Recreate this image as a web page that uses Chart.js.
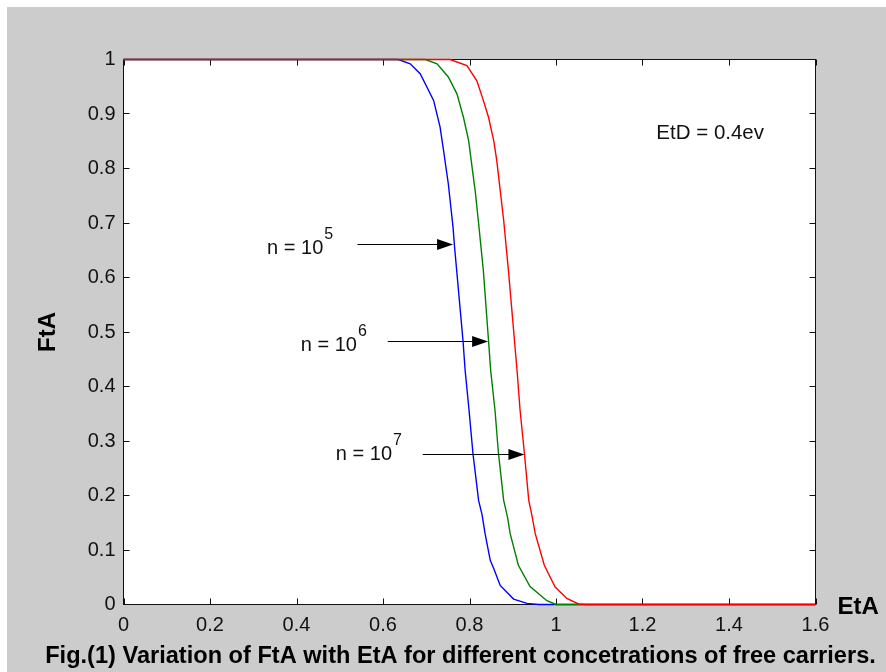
<!DOCTYPE html>
<html><head><meta charset="utf-8">
<script src="https://cdn.jsdelivr.net/npm/chart.js@4"></script>
<style>html,body{margin:0;padding:0;background:#fff;}canvas{display:block;}</style>
</head><body>
<canvas id="c" width="886" height="672"></canvas>
<script>
// ---- data ----
const xTicks = [0, 0.2, 0.4, 0.6, 0.8, 1, 1.2, 1.4, 1.6];
const yTicks = [0, 0.1, 0.2, 0.3, 0.4, 0.5, 0.6, 0.7, 0.8, 0.9, 1];
const seriesNames = ['n = 10^5', 'n = 10^6', 'n = 10^7'];

const blueX = [0, 0.635, 0.663, 0.686, 0.717, 0.732, 0.740, 0.751, 0.762, 0.765, 0.785, 0.790, 0.799, 0.808, 0.821, 0.829, 0.836, 0.848, 0.856, 0.871, 0.902, 0.933, 0.96, 1.6];
const blueY = [1, 1, 0.992, 0.974, 0.925, 0.876, 0.833, 0.772, 0.692, 0.660, 0.484, 0.429, 0.356, 0.277, 0.191, 0.165, 0.130, 0.081, 0.066, 0.035, 0.010, 0.002, 0, 0];

const greenX = [0, 0.698, 0.725, 0.751, 0.771, 0.786, 0.798, 0.806, 0.813, 0.821, 0.832, 0.844, 0.849, 0.859, 0.867, 0.879, 0.888, 0.894, 0.913, 0.940, 0.979, 1.0, 1.6];
const greenY = [1, 1, 0.992, 0.968, 0.937, 0.894, 0.851, 0.802, 0.760, 0.700, 0.613, 0.484, 0.429, 0.356, 0.277, 0.191, 0.160, 0.130, 0.072, 0.033, 0.007, 0, 0];

const redX = [0, 0.755, 0.794, 0.817, 0.832, 0.844, 0.856, 0.863, 0.871, 0.879, 0.890, 0.900, 0.910, 0.917, 0.927, 0.937, 0.944, 0.952, 0.973, 0.998, 1.025, 1.052, 1.07, 1.6];
const redY = [1, 1, 0.989, 0.961, 0.925, 0.894, 0.851, 0.815, 0.760, 0.705, 0.613, 0.521, 0.429, 0.356, 0.277, 0.191, 0.165, 0.130, 0.072, 0.032, 0.011, 0.001, 0, 0];

// annotations (data units)
const annoText = ['n = 10', 'n = 10', 'n = 10'];
const annoExp = ['5', '6', '7'];
const annoTextX = [0.332, 0.410, 0.491];
const annoTextY = [0.644, 0.466, 0.266];
const arrowX0 = [0.541, 0.611, 0.692];
const arrowX1 = [0.762, 0.843, 0.927];
const arrowY = [0.661, 0.484, 0.277];
const noteText = 'EtD = 0.4ev';
const noteX = 1.232, noteY = 0.855;
const xTitle = 'EtA', yTitle = 'FtA';
const caption = 'Fig.(1) Variation of FtA with EtA for different concetrations of free carriers.';

const pts = (xs, ys) => xs.map((x, i) => ({x, y: ys[i]}));
const FONT = '"Liberation Sans", Arial, Helvetica, sans-serif';

const decor = {
  id: 'decor',
  beforeDraw(chart) {
    const c = chart.ctx, a = chart.chartArea;
    c.save();
    c.fillStyle = '#ffffff';
    c.fillRect(0, 0, chart.width, chart.height);
    c.fillStyle = '#cccccc';
    c.fillRect(7, 7, chart.width - 7, chart.height - 7);
    c.fillStyle = '#ffffff';
    c.fillRect(a.left, a.top, a.right - a.left, a.bottom - a.top);
    c.restore();
  },
  beforeDatasetsDraw(chart) {
    const c = chart.ctx;
    const xs = chart.scales.x, ys = chart.scales.y;
    c.save();
    c.strokeStyle = '#111';
    c.lineWidth = 1;
    const L = xs.getPixelForValue(0), R = xs.getPixelForValue(1.6);
    const T = ys.getPixelForValue(1), B = ys.getPixelForValue(0);
    c.strokeRect(L, T, R - L, B - T);
    c.beginPath();
    xTicks.forEach(v => {
      const px = Math.round(xs.getPixelForValue(v)) + 0.5;
      c.moveTo(px, B); c.lineTo(px, B - 6);
      c.moveTo(px, T); c.lineTo(px, T + 6);
    });
    yTicks.forEach(v => {
      const py = Math.round(ys.getPixelForValue(v) - 0.5) + 0.5;
      c.moveTo(L, py); c.lineTo(L + 6, py);
      c.moveTo(R, py); c.lineTo(R - 6, py);
    });
    c.stroke();
    c.restore();
  },
  afterDraw(chart) {
    const c = chart.ctx, a = chart.chartArea;
    const xs = chart.scales.x, ys = chart.scales.y;
    c.save();
    c.fillStyle = '#111';
    c.textBaseline = 'alphabetic';
    c.textAlign = 'left';
    for (let i = 0; i < annoText.length; i++) {
      const tx = xs.getPixelForValue(annoTextX[i]);
      const ty = ys.getPixelForValue(annoTextY[i]);
      c.font = '20px ' + FONT;
      c.fillText(annoText[i], tx, ty);
      const w = c.measureText(annoText[i]).width;
      c.font = '16px ' + FONT;
      c.fillText(annoExp[i], tx + w + 1, ty - 15);
      const x0 = xs.getPixelForValue(arrowX0[i]);
      const x1 = xs.getPixelForValue(arrowX1[i]);
      const ay = Math.round(ys.getPixelForValue(arrowY[i])) + 0.5;
      c.strokeStyle = '#000';
      c.lineWidth = 1;
      c.beginPath();
      c.moveTo(x0, ay); c.lineTo(x1 - 10, ay);
      c.stroke();
      c.fillStyle = '#000';
      c.beginPath();
      c.moveTo(x1, ay);
      c.lineTo(x1 - 16, ay - 5.5);
      c.lineTo(x1 - 16, ay + 5.5);
      c.closePath();
      c.fill();
      c.fillStyle = '#111';
    }
    c.font = '20.5px ' + FONT;
    c.fillText(noteText, xs.getPixelForValue(noteX), ys.getPixelForValue(noteY));

    c.fillStyle = '#000';
    c.font = 'bold 24px ' + FONT;
    c.fillText(xTitle, a.right + 22, a.bottom + 9);
    c.save();
    c.translate(48, (a.top + a.bottom) / 2);
    c.rotate(-Math.PI / 2);
    c.textAlign = 'center';
    c.textBaseline = 'middle';
    c.fillText(yTitle, 0, 0);
    c.restore();

    c.font = 'bold 22px ' + FONT;
    const cw = c.measureText(caption).width;
    const fs = 22 * 831 / cw;
    c.font = 'bold ' + fs.toFixed(2) + 'px ' + FONT;
    c.textAlign = 'center';
    c.fillText(caption, 460.5, 663);
    c.restore();
  }
};

new Chart(document.getElementById('c'), {
  type: 'scatter',
  data: {
    datasets: [
      {label: seriesNames[2], data: pts(redX, redY), borderColor: '#ff0000'},
      {label: seriesNames[1], data: pts(greenX, greenY), borderColor: '#008000'},
      {label: seriesNames[0], data: pts(blueX, blueY), borderColor: '#0000ff'}
    ].map(d => Object.assign(d, {showLine: true, pointRadius: 0, borderWidth: 1.4, tension: 0, fill: false, clip: 2}))
  },
  options: {
    responsive: false,
    devicePixelRatio: 1,
    animation: false,
    events: [],
    layout: {padding: {left: 23.5, top: 59.5, right: 70.5, bottom: 0}},
    plugins: {legend: {display: false}, tooltip: {enabled: false}, title: {display: false}},
    scales: {
      x: {
        type: 'linear', position: 'bottom', min: 0, max: 1.6,
        afterBuildTicks: s => { s.ticks = xTicks.map(v => ({value: v})); },
        afterFit: s => { s.height = 67.5; },
        grid: {display: false, drawTicks: false},
        border: {display: false},
        ticks: {color: '#111', font: {family: FONT, size: 20}, padding: 9, maxRotation: 0, autoSkip: false,
                callback: v => String(+v.toFixed(1))}
      },
      y: {
        type: 'linear', min: 0, max: 1,
        afterBuildTicks: s => { s.ticks = yTicks.map(v => ({value: v})); },
        afterFit: s => { s.width = 100; },
        grid: {display: false, drawTicks: false},
        border: {display: false},
        ticks: {color: '#111', font: {family: FONT, size: 20}, padding: 8, autoSkip: false,
                callback: v => String(+v.toFixed(1))}
      }
    }
  },
  plugins: [decor]
});
</script>
</body></html>
